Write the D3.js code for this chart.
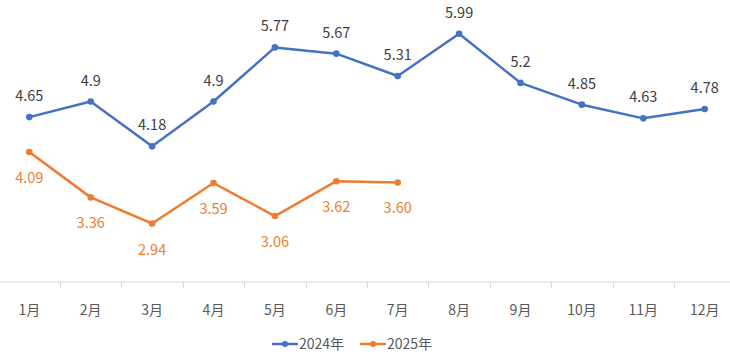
<!DOCTYPE html>
<html><head><meta charset="utf-8">
<script src="https://cdn.jsdelivr.net/npm/d3@7"></script>
<style>body{margin:0;background:#fff}svg{display:block}text{font-family:"Noto Sans CJK SC","Noto Sans",sans-serif}</style>
</head><body><svg id="c" width="730" height="356"></svg>
<script>
const months = ["1月","2月","3月","4月","5月","6月","7月","8月","9月","10月","11月","12月"];
const series2024 = [4.65,4.9,4.18,4.9,5.77,5.67,5.31,5.99,5.2,4.85,4.63,4.78];
const series2025 = [4.09,3.36,2.94,3.59,3.06,3.62,3.60];
const seriesNames = ["2024年","2025年"];
const colors = ["#4472C4","#ED7D31"];

const svg = d3.select("#c");
const x = d3.scaleBand().domain(months).range([-1.4, 735.4]);
const y = d3.scaleLinear().domain([2, 6.5]).range([282, 2]);
const cx = m => x(m) + x.bandwidth()/2;

// axis
const ax = svg.append("g").attr("transform","translate(0,282)")
  .call(d3.axisBottom(x).tickSize(0).tickPadding(0));
ax.select(".domain").remove();
ax.selectAll(".tick text").remove();
svg.append("line").attr("x1",0).attr("x2",730).attr("y1",282).attr("y2",282)
  .attr("stroke","#d9d9d9").attr("stroke-width",1);
months.forEach((m,i)=>{ if(i>0){ const bx = Math.round(x(m))+0.5;
  svg.append("line").attr("x1",bx).attr("x2",bx).attr("y1",282).attr("y2",288)
    .attr("stroke","#d9d9d9").attr("stroke-width",1);} });
svg.append("g").selectAll("text").data(months).join("text")
  .attr("x",d=>cx(d)).attr("y",315).attr("text-anchor","middle")
  .attr("font-size",14).attr("fill","#595959").text(d=>d);

const line = d3.line().x((d,i)=>cx(months[i])).y(d=>y(d));
[series2024, series2025].forEach((s,k)=>{
  svg.append("path").datum(s).attr("d",line).attr("fill","none")
    .attr("stroke",colors[k]).attr("stroke-width",2.5).attr("stroke-linejoin","round").attr("stroke-linecap","round");
  svg.append("g").selectAll("circle").data(s).join("circle")
    .attr("cx",(d,i)=>cx(months[i])).attr("cy",d=>y(d)).attr("r",3.3).attr("fill",colors[k]);
});
svg.append("g").selectAll("text").data(series2024).join("text")
  .attr("x",(d,i)=>cx(months[i])).attr("y",d=>y(d)-16).attr("text-anchor","middle")
  .attr("font-size",14.5).attr("fill","#404040").text(d=>String(d));
svg.append("g").selectAll("text").data(series2025).join("text")
  .attr("x",(d,i)=>cx(months[i])).attr("y",d=>y(d)+31).attr("text-anchor","middle")
  .attr("font-size",14.5).attr("fill",colors[1]).text(d=>d3.format(".2f")(d));

// legend
const lg = svg.append("g");
const lx = [272, 360];
seriesNames.forEach((n,k)=>{
  lg.append("line").attr("x1",lx[k]).attr("x2",lx[k]+26).attr("y1",344).attr("y2",344)
    .attr("stroke",colors[k]).attr("stroke-width",2.5);
  lg.append("circle").attr("cx",lx[k]+13).attr("cy",344).attr("r",3).attr("fill",colors[k]);
  lg.append("text").attr("x",lx[k]+27).attr("y",349).attr("font-size",14).attr("fill","#595959").text(n);
});
</script></body></html>
